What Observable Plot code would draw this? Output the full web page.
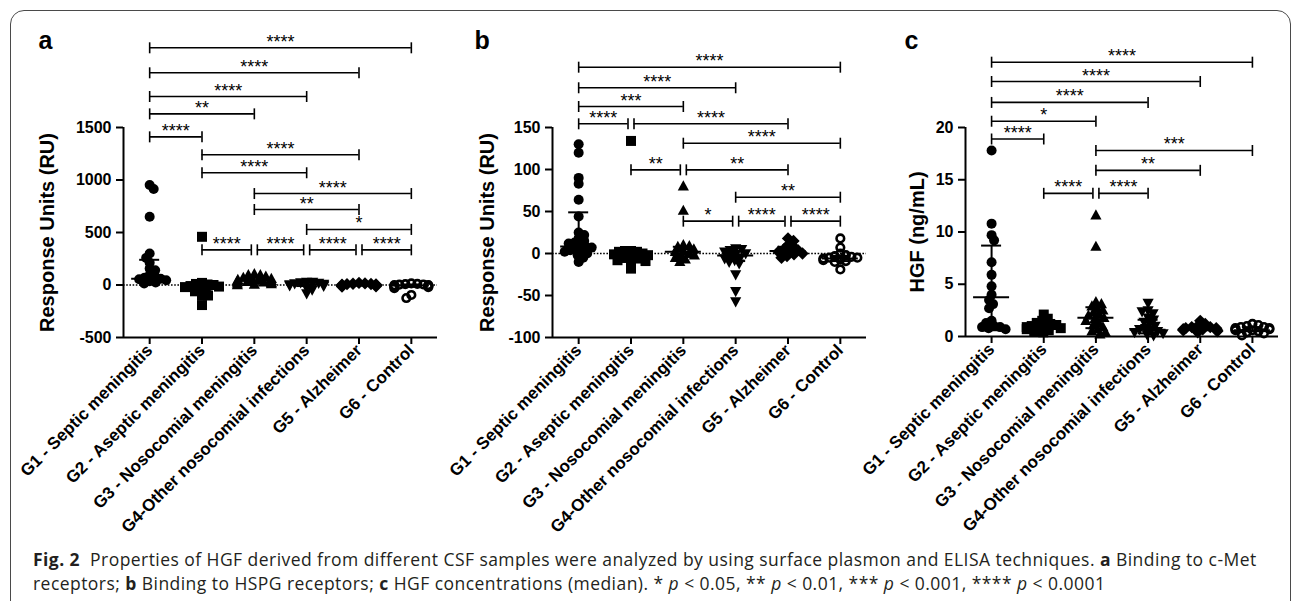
<!DOCTYPE html>
<html><head><meta charset="utf-8">
<script src="https://cdn.jsdelivr.net/npm/d3@7"></script>
<script src="https://cdn.jsdelivr.net/npm/@observablehq/plot@0.6"></script>
<style>
body{margin:0;background:#fff;}
#wrap{position:relative;width:1293px;height:601px;overflow:hidden;background:#fff;}
#frame{position:absolute;left:10px;top:10px;width:1281px;height:700px;box-sizing:border-box;border:1.5px solid #4a4a4a;border-radius:14px;}
.panel{position:absolute;top:0;height:545px;}
#caption{position:absolute;left:33px;top:547px;font-family:"Open Sans",sans-serif;font-size:17.5px;letter-spacing:0.45px;line-height:24px;color:#231f20;white-space:nowrap;}
#caption b{font-weight:700;}
</style></head>
<body><div id="wrap"><div id="frame"></div>
<div id="pa" class="panel" style="left:0;width:445px"></div>
<div id="pb" class="panel" style="left:440px;width:435px"></div>
<div id="pc" class="panel" style="left:870px;width:423px"></div>
<div id="caption"><b>Fig. 2</b>&nbsp; Properties of HGF derived from different CSF samples were analyzed by using surface plasmon and ELISA techniques. <b>a</b> Binding to c-Met<br>receptors; <b>b</b> Binding to HSPG receptors; <b>c</b> HGF concentrations (median). * <i>p</i> &lt; 0.05, ** <i>p</i> &lt; 0.01, *** <i>p</i> &lt; 0.001, **** <i>p</i> &lt; 0.0001</div>
</div>
<script>
// ---------- data ----------
const groups = ["G1 - Septic meningitis", "G2 - Aseptic meningitis", "G3 - Nosocomial meningitis",
  "G4-Other nosocomial infections", "G5 - Alzheimer", "G6 - Control"];

// Panel a: binding to c-Met (RU)
const aG1 = [953, 915, 650, 300, 258, 213, 156, 140, 95, 80, 70, 60, 55, 45, 35, 25, 15];
const aG2 = [459, 20, 10, 5, 0, -10, -15, -20, -30, -45, -60, -95, -100, -191];
const aG3 = [105, 95, 95, 80, 70, 60, 55, 50, 45, 40, 35, 30, 25, 20, 15, 10, 5, 0];
const aG4 = [30, 28, 25, 20, 15, 10, 5, 0, -5, -10, -25, -45, -80];
const aG5 = [20, 15, 12, 10, 8, 5, 3, 0, -2, -5, -8, -12, -15];
const aG6 = [15, 10, 8, 5, 3, 0, -2, -5, -8, -10, -15, -20, -30, -95, -124];
const aCenter = [60, -20, 40, 5, 3, -5];
const aLower = [20, -60, 15, -10, -5, -15];
const aUpper = [240, 5, 80, 20, 10, 5];
const aTicks = [-500, 0, 500, 1000, 1500];
const aBrackets = [[0, 5, 2259, "****"], [0, 4, 2021, "****"], [0, 3, 1795, "****"], [0, 2, 1630, "**"],
  [0, 1, 1411, "****"], [1, 4, 1240, "****"], [1, 3, 1069, "****"], [2, 5, 871, "****"], [2, 4, 719, "**"],
  [3, 5, 529, "*"], [1, 2, 335, "****"], [2, 3, 335, "****"], [3, 4, 335, "****"], [4, 5, 335, "****"]];

// Panel b: binding to HSPG (RU)
const bG1 = [130, 120, 90, 83, 64, 44, 25, 22, 18, 15, 13, 12, 10, 8, 7, 5, 4, 3, 2, 0, -2, -5, -10];
const bG2 = [134, 3, 3, 2, 2, 0, -1, -2, -3, -4, -5, -6, -8, -9, -10, -18];
const bG3 = [80, 51, 10, 9, 8, 5, 3, 2, 0, -2, -3, -5, -7, -10];
const bG4 = [6, 5, 4, 2, 0, -1, -3, -5, -6, -8, -10, -12, -25, -45, -57];
const bG5 = [18, 15, 10, 8, 5, 4, 3, 2, 0, -1, -3, -5];
const bG6 = [18, 7, 0, -2, -3, -4, -5, -5, -6, -7, -8, -9, -10, -19];
const bCenter = [8.3, -5, 2, -2.4, 3, -6];
const bLower = [2, -10, -4, -9, -2, -9];
const bUpper = [49, 0, 8, 3, 8, -3];
const bTicks = [-100, -50, 0, 50, 100, 150];
const bBrackets = [[0, 5, 221.8, "****"], [0, 3, 197.3, "****"], [0, 2, 175, "***"], [0, 1, 154.4, "****"],
  [1, 4, 154.4, "****"], [2, 5, 131.3, "****"], [1, 2, 99.6, "**"], [2, 4, 99.6, "**"], [3, 5, 67, "**"],
  [2, 3, 38.5, "*"], [3, 4, 38.5, "****"], [4, 5, 38.5, "****"]];

// Panel c: HGF concentration (ng/mL)
const cG1 = [17.8, 10.8, 9.7, 9.2, 7.1, 5.9, 4.8, 4.0, 3.5, 3.1, 2.7, 1.5, 1.3, 1.0, 0.9, 0.9, 0.8, 0.7];
const cG2 = [2.1, 1.7, 1.5, 1.3, 1.2, 1.1, 1.0, 1.0, 0.9, 0.8, 0.8, 0.7, 0.6, 0.5, 0.4];
const cG3 = [11.6, 8.6, 3.3, 3.1, 2.9, 2.7, 2.5, 2.3, 2.1, 2.0, 1.8, 1.7, 1.5, 1.3, 1.1, 0.9, 0.7, 0.5, 0.4, 0.2];
const cG4 = [3.2, 2.5, 2.4, 2.2, 1.8, 1.6, 1.4, 1.2, 1.0, 0.8, 0.7, 0.6, 0.5, 0.4, 0.3, 0.2, 0.1];
const cG5 = [1.5, 1.2, 1.0, 0.9, 0.9, 0.8, 0.8, 0.7, 0.7, 0.6, 0.6, 0.5, 0.4];
const cG6 = [1.2, 1.1, 1.0, 0.9, 0.9, 0.8, 0.8, 0.7, 0.7, 0.6, 0.6, 0.5, 0.4, 0.3, 0.1];
const cCenter = [3.75, 0.9, 1.8, 0.65, 0.8, 0.6];
const cLower = [0.6, 0.6, 0.8, 0.3, 0.6, 0.5];
const cUpper = [8.7, 1.2, 2.8, 1.6, 1.0, 0.9];
const cTicks = [0, 5, 10, 15, 20];
const cBrackets = [[0, 5, 26.25, "****"], [0, 4, 24.4, "****"], [0, 3, 22.4, "****"], [0, 2, 20.6, "*"],
  [0, 1, 18.9, "****"], [2, 5, 17.8, "***"], [2, 4, 15.9, "**"], [1, 2, 13.7, "****"], [2, 3, 13.7, "****"]];

// ---------- symbols ----------
const SYM = {
  circle: {draw(c) { c.moveTo(5, 0); c.arc(0, 0, 5, 0, 2 * Math.PI); }},
  square: {draw(c) { c.moveTo(-5, -5); c.lineTo(5, -5); c.lineTo(5, 5); c.lineTo(-5, 5); c.closePath(); }},
  triUp: {draw(c) { c.moveTo(0, -6); c.lineTo(5.6, 4.2); c.lineTo(-5.6, 4.2); c.closePath(); }},
  triDown: {draw(c) { c.moveTo(0, 6); c.lineTo(5.6, -4.2); c.lineTo(-5.6, -4.2); c.closePath(); }},
  diamond: {draw(c) { c.moveTo(0, -6.2); c.lineTo(6.2, 0); c.lineTo(0, 6.2); c.lineTo(-6.2, 0); c.closePath(); }},
  open: {draw(c) { c.moveTo(3.8, 0); c.arc(0, 0, 3.8, 0, 2 * Math.PI); }},
  vbar: {draw(c) { c.moveTo(0, -5.5); c.lineTo(0, 5.5); }}
};
const groupSymbols = [SYM.circle, SYM.square, SYM.triUp, SYM.triDown, SYM.diamond, SYM.open];

function swarm(vals, ys, diam, maxOff) {
  const order = d3.range(vals.length).sort((i, j) => d3.descending(vals[i], vals[j]));
  const placed = [], off = [];
  order.forEach((i, n) => {
    const y = ys(vals[i]);
    let x = 0;
    for (let k = 0; k <= 400; k++) {
      const d = k * 0.5;
      const cands = d === 0 ? [0] : (n % 2 ? [d, -d] : [-d, d]);
      const ok = cands.find(c => placed.every(p => (p.x - c) ** 2 + (p.y - y) ** 2 >= diam * diam));
      if (ok !== undefined) { x = ok; break; }
    }
    x = Math.max(-maxOff, Math.min(maxOff, x));
    placed.push({x, y});
    off[i] = x;
  });
  return off;
}

function panel({el, width, ml, mr, bottom, yDomain, yTicks, values, center, lower, upper, brackets, title, letter, zeroLine}) {
  const height = 545, top = 127;
  const step = (width - ml - mr) / 6;
  const ys = d3.scaleLinear(yDomain, [bottom, top]);
  const px = p => p / step; // pixel offset → x units
  const marks = [];
  if (zeroLine) marks.push(Plot.ruleY([0], {stroke: "black", strokeWidth: 1.3, strokeDasharray: "1.6,1.6"}));
  values.forEach((vals, g) => {
    const off = swarm(vals, ys, 5.6, 17);
    const rows = vals.map((v, i) => ({x: g + px(off[i]), y: v}));
    marks.push(Plot.dot(rows, {x: "x", y: "y", symbol: groupSymbols[g],
      fill: g === 5 ? "none" : "black", stroke: g === 5 ? "black" : "none", strokeWidth: 2.6}));
  });
  const stats = d3.range(6).map(g => ({g, c: center[g], lo: lower[g], hi: upper[g]}));
  marks.push(
    Plot.ruleX(stats, {x: "g", y1: "lo", y2: "hi", stroke: "black", strokeWidth: 2}),
    Plot.ruleY(stats, {y: "hi", x1: d => d.g - px(10), x2: d => d.g + px(10), stroke: "black", strokeWidth: 2}),
    Plot.ruleY(stats, {y: "lo", x1: d => d.g - px(10), x2: d => d.g + px(10), stroke: "black", strokeWidth: 2}),
    Plot.ruleY(stats, {y: "c", x1: d => d.g - px(18), x2: d => d.g + px(18), stroke: "black", strokeWidth: 2})
  );
  // comparison brackets
  const br = brackets.map(([a, b, y, label]) => {
    const shared = g => brackets.some(o => o[2] === y && (o[0] !== a || o[1] !== b) && (o[0] === g || o[1] === g));
    return {x1: a + (shared(a) ? px(3) : 0), x2: b - (shared(b) ? px(3) : 0), y, label};
  });
  const ends = br.flatMap(d => [{x: d.x1, y: d.y}, {x: d.x2, y: d.y}]);
  marks.push(
    Plot.ruleY(br, {y: "y", x1: "x1", x2: "x2", stroke: "black", strokeWidth: 1.6}),
    Plot.dot(ends, {x: "x", y: "y", symbol: SYM.vbar, stroke: "black", fill: "none", strokeWidth: 1.6}),
    Plot.text(br, {x: d => (d.x1 + d.x2) / 2, y: "y", text: "label", fontSize: 18, fontWeight: "normal",
      lineAnchor: "bottom", dy: 0, fill: "black"})
  );
  // axes
  marks.push(
    Plot.ruleX([-0.5], {stroke: "black", strokeWidth: 2}),
    Plot.ruleY([yDomain[0]], {stroke: "black", strokeWidth: 2}),
    Plot.axisY({ticks: yTicks, tickFormat: d => String(d), tickSize: 7, tickPadding: 5, fontSize: 16,
      fontWeight: "bold", strokeWidth: 2, label: null}),
    Plot.axisX({ticks: d3.range(6), tickFormat: i => groups[i], tickRotate: -45, tickSize: 7, tickPadding: 3,
      fontSize: 17, fontWeight: "bold", strokeWidth: 2, label: null}),
    Plot.text([title], {frameAnchor: "left", rotate: -90, dx: -(ml - 47),
      textAnchor: "middle", lineAnchor: "middle", fontSize: 20, fontWeight: "bold", fill: "black"}),
    Plot.text([letter.t], {frameAnchor: "top-left", dx: letter.x - ml, dy: 48 - top, textAnchor: "start",
      lineAnchor: "bottom", fontSize: 25, fontWeight: "bold", fill: "black"})
  );
  const chart = Plot.plot({
    width, height, marginLeft: ml, marginRight: mr, marginTop: top, marginBottom: height - bottom,
    x: {domain: [-0.5, 5.5], range: [ml, width - mr]},
    y: {domain: yDomain, range: [bottom, top]},
    style: {fontFamily: "'Liberation Sans', Arial, sans-serif", fontWeight: "bold", background: "transparent", overflow: "visible", color: "black"},
    marks
  });
  document.getElementById(el).appendChild(chart);
}

panel({el: "pa", width: 445, ml: 123, mr: 8, bottom: 337, yDomain: [-500, 1500], yTicks: aTicks,
  values: [aG1, aG2, aG3, aG4, aG5, aG6], center: aCenter, lower: aLower, upper: aUpper, brackets: aBrackets,
  title: "Response Units (RU)", letter: {t: "a", x: 38}, zeroLine: true});
panel({el: "pb", width: 435, ml: 112, mr: 9, bottom: 337, yDomain: [-100, 150], yTicks: bTicks,
  values: [bG1, bG2, bG3, bG4, bG5, bG6], center: bCenter, lower: bLower, upper: bUpper, brackets: bBrackets,
  title: "Response Units (RU)", letter: {t: "b", x: 34}, zeroLine: true});
panel({el: "pc", width: 423, ml: 95, mr: 15, bottom: 336, yDomain: [0, 20], yTicks: cTicks,
  values: [cG1, cG2, cG3, cG4, cG5, cG6], center: cCenter, lower: cLower, upper: cUpper, brackets: cBrackets,
  title: "HGF (ng/mL)", letter: {t: "c", x: 34}, zeroLine: false});
</script>
</body></html>
